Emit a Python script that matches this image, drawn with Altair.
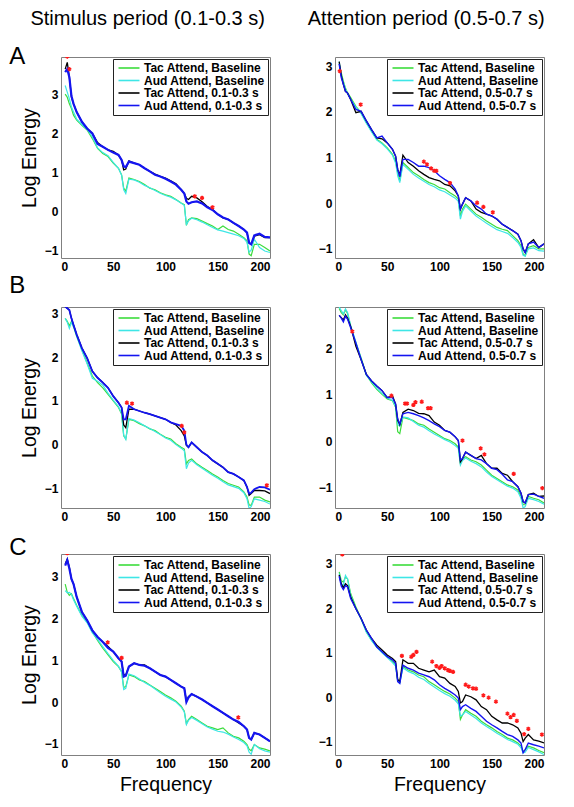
import altair as alt
import pandas as pd

FONT = "Liberation Sans"

FREQ = [4, 6, 8, 10, 12, 15, 20, 25, 30, 35, 40, 45, 50, 55, 58, 60, 62, 65, 70, 75,
        80, 85, 90, 95, 100, 105, 110, 115, 118, 120, 122, 125, 130, 135, 140, 145, 150, 155, 160, 165,
        170, 175, 178, 180, 182, 185, 190, 195, 200]

NAMES_STIM = ["Tac Attend, Baseline", "Aud Attend, Baseline", "Tac Attend, 0.1-0.3 s", "Aud Attend, 0.1-0.3 s"]
NAMES_ATTN = ["Tac Attend, Baseline", "Aud Attend, Baseline", "Tac Attend, 0.5-0.7 s", "Aud Attend, 0.5-0.7 s"]
COLORS = ["#3cdc3c", "#3ee6e6", "#000000", "#1414f0"]

# ---------------- Panel A, stimulus period ----------------
A_L_TAC_BASE = [3.00, 2.92, 2.75, 2.63, 2.46, 2.33, 2.20, 2.08, 1.86, 1.61, 1.48, 1.40, 1.23, 1.10, 0.93, 0.59, 0.51, 0.85, 0.81, 0.76,
                0.68, 0.59, 0.55, 0.47, 0.42, 0.38, 0.30, 0.21, 0.17, -0.36, -0.22, -0.17, -0.19, -0.25, -0.32, -0.38, -0.47, -0.38, -0.47, -0.51,
                -0.59, -0.68, -0.76, -1.10, -1.14, -0.85, -0.85, -0.93, -1.02]
A_L_AUD_BASE = [3.22, 3.05, 2.88, 2.67, 2.54, 2.36, 2.22, 2.10, 1.90, 1.62, 1.50, 1.42, 1.25, 1.10, 0.92, 0.55, 0.45, 0.82, 0.80, 0.74,
                0.66, 0.60, 0.53, 0.46, 0.40, 0.36, 0.29, 0.20, 0.15, -0.34, -0.25, -0.18, -0.22, -0.28, -0.35, -0.42, -0.48, -0.51, -0.55, -0.59,
                -0.63, -0.70, -0.80, -1.05, -1.00, -0.72, -0.93, -1.02, -1.06]
A_L_TAC = [3.64, 3.81, 3.43, 2.92, 2.75, 2.54, 2.29, 2.12, 1.99, 1.76, 1.65, 1.57, 1.53, 1.44, 1.31, 1.06, 1.08, 1.29, 1.23, 1.19,
           1.10, 1.02, 0.95, 0.89, 0.85, 0.78, 0.70, 0.55, 0.45, 0.33, 0.30, 0.38, 0.34, 0.24, 0.12, 0.04, -0.08, -0.17, -0.21, -0.30,
           -0.38, -0.47, -0.55, -0.81, -0.85, -0.64, -0.60, -0.68, -0.68]
A_L_AUD = [3.56, 3.64, 3.43, 2.95, 2.75, 2.54, 2.29, 2.12, 1.99, 1.72, 1.65, 1.57, 1.50, 1.44, 1.31, 1.15, 1.13, 1.27, 1.23, 1.19,
           1.10, 1.02, 0.93, 0.89, 0.83, 0.76, 0.68, 0.55, 0.45, 0.25, 0.19, 0.23, 0.25, 0.20, 0.10, 0.03, -0.08, -0.16, -0.21, -0.30,
           -0.38, -0.47, -0.55, -0.81, -0.85, -0.62, -0.58, -0.66, -0.67]
A_L_STAR_F = [6, 8, 128, 135, 145]
A_L_STAR_V = [3.96, 3.64, 0.38, 0.34, 0.10]

# ---------------- Panel A, attention period ----------------
A_R_TAC_BASE = [3.05, 2.85, 2.67, 2.52, 2.42, 2.31, 2.12, 1.98, 1.76, 1.58, 1.40, 1.32, 1.21, 1.07, 0.92, 0.67, 0.49, 0.89, 0.78, 0.67,
                0.60, 0.52, 0.45, 0.41, 0.34, 0.31, 0.23, 0.16, 0.09, -0.28, -0.13, -0.02, -0.13, -0.24, -0.31, -0.39, -0.46, -0.53, -0.57, -0.60,
                -0.71, -0.82, -0.93, -1.11, -1.15, -0.97, -0.93, -1.00, -1.00]
A_R_AUD_BASE = [3.10, 2.80, 2.65, 2.50, 2.40, 2.28, 2.10, 1.96, 1.75, 1.56, 1.38, 1.30, 1.19, 1.05, 0.88, 0.60, 0.45, 0.85, 0.74, 0.63,
                0.55, 0.48, 0.41, 0.36, 0.29, 0.25, 0.18, 0.11, 0.04, -0.35, -0.18, -0.06, -0.17, -0.28, -0.36, -0.44, -0.51, -0.58, -0.62, -0.66,
                -0.75, -0.86, -0.97, -1.14, -1.16, -1.00, -0.98, -1.04, -1.05]
A_R_TAC = [3.10, 2.80, 2.60, 2.45, 2.41, 2.27, 1.98, 2.01, 1.80, 1.61, 1.43, 1.41, 1.32, 1.18, 1.03, 0.74, 0.62, 1.05, 0.89, 0.81,
           0.71, 0.63, 0.56, 0.52, 0.49, 0.41, 0.38, 0.27, 0.16, -0.13, -0.02, 0.12, 0.05, -0.13, -0.20, -0.24, -0.28, -0.35, -0.46, -0.53,
           -0.60, -0.68, -0.82, -1.00, -1.08, -0.89, -0.80, -0.97, -0.89]
A_R_AUD = [3.05, 2.75, 2.60, 2.45, 2.41, 2.27, 2.05, 2.01, 1.80, 1.61, 1.43, 1.47, 1.32, 1.18, 1.03, 0.74, 0.58, 0.96, 0.96, 0.89,
           0.81, 0.81, 0.78, 0.71, 0.60, 0.52, 0.45, 0.31, 0.16, -0.13, -0.02, 0.12, 0.05, -0.06, -0.13, -0.24, -0.28, -0.35, -0.46, -0.53,
           -0.60, -0.68, -0.82, -1.00, -1.08, -0.89, -0.85, -0.97, -0.89]
A_R_STAR_F = [4.5, 24.6, 85, 88, 92, 95, 97, 110, 136, 142, 151]
A_R_STAR_V = [2.89, 2.16, 0.91, 0.85, 0.76, 0.71, 0.71, 0.44, 0.01, -0.08, -0.20]

# ---------------- Panel B, stimulus period ----------------
B_L_TAC_BASE = [2.89, 2.82, 2.72, 2.82, 2.70, 2.48, 2.17, 1.87, 1.57, 1.42, 1.30, 1.15, 1.00, 0.85, 0.70, 0.20, 0.13, 0.58, 0.55, 0.48,
                0.43, 0.36, 0.32, 0.24, 0.17, 0.13, 0.02, -0.06, -0.10, -0.44, -0.36, -0.33, -0.44, -0.52, -0.59, -0.67, -0.74, -0.82, -0.89, -0.93,
                -0.97, -1.08, -1.20, -1.38, -1.39, -1.20, -1.20, -1.27, -1.31]
B_L_AUD_BASE = [2.89, 2.80, 2.66, 2.80, 2.70, 2.48, 2.15, 1.85, 1.52, 1.45, 1.36, 1.18, 1.02, 0.87, 0.72, 0.22, 0.12, 0.60, 0.56, 0.50,
                0.43, 0.37, 0.30, 0.23, 0.15, 0.10, 0.00, -0.08, -0.14, -0.55, -0.42, -0.36, -0.46, -0.54, -0.62, -0.70, -0.77, -0.85, -0.92, -0.96,
                -1.00, -1.10, -1.24, -1.46, -1.42, -1.24, -1.27, -1.30, -1.36]
B_L_TAC = [3.16, 3.12, 3.08, 2.89, 2.74, 2.52, 2.21, 1.98, 1.68, 1.53, 1.42, 1.30, 1.11, 0.96, 0.85, 0.45, 0.39, 0.81, 0.81, 0.77,
           0.73, 0.70, 0.66, 0.62, 0.58, 0.51, 0.45, 0.32, 0.20, -0.02, -0.06, 0.05, -0.06, -0.17, -0.25, -0.36, -0.44, -0.52, -0.63, -0.67,
           -0.74, -0.82, -0.97, -1.16, -1.12, -1.05, -1.05, -1.06, -1.12]
B_L_AUD = [3.16, 3.12, 3.08, 2.89, 2.74, 2.52, 2.21, 1.98, 1.68, 1.53, 1.42, 1.30, 1.11, 0.96, 0.85, 0.58, 0.58, 0.89, 0.81, 0.77,
           0.73, 0.70, 0.66, 0.62, 0.58, 0.51, 0.47, 0.43, 0.32, 0.00, -0.06, 0.05, -0.06, -0.17, -0.25, -0.36, -0.44, -0.52, -0.63, -0.67,
           -0.74, -0.82, -0.97, -1.12, -1.10, -1.02, -0.97, -0.98, -1.03]
B_L_STAR_F = [63, 68, 115.5, 118, 197]
B_L_STAR_V = [0.96, 0.94, 0.43, 0.28, -0.93]

# ---------------- Panel B, attention period ----------------
B_R_TAC_BASE = [2.87, 2.78, 2.73, 2.84, 2.76, 2.48, 2.12, 1.80, 1.44, 1.26, 1.12, 1.01, 0.91, 0.87, 0.73, 0.20, 0.16, 0.51, 0.48, 0.44,
                0.37, 0.34, 0.26, 0.19, 0.12, 0.05, 0.01, -0.06, -0.13, -0.49, -0.38, -0.34, -0.41, -0.45, -0.52, -0.63, -0.74, -0.81, -0.88, -0.95,
                -0.99, -1.06, -1.20, -1.38, -1.38, -1.20, -1.24, -1.27, -1.34]
B_R_AUD_BASE = [2.90, 2.82, 2.75, 2.86, 2.78, 2.50, 2.14, 1.78, 1.42, 1.28, 1.14, 1.03, 0.93, 0.88, 0.74, 0.36, 0.32, 0.52, 0.50, 0.42,
                0.34, 0.30, 0.22, 0.15, 0.09, 0.03, -0.02, -0.10, -0.16, -0.52, -0.42, -0.37, -0.44, -0.49, -0.56, -0.67, -0.77, -0.84, -0.91, -0.98,
                -1.02, -1.10, -1.24, -1.45, -1.42, -1.24, -1.27, -1.31, -1.37]
B_R_TAC = [2.72, 2.67, 2.62, 2.73, 2.66, 2.48, 2.05, 1.76, 1.44, 1.30, 1.19, 1.09, 0.94, 0.98, 0.80, 0.45, 0.35, 0.62, 0.69, 0.66,
           0.60, 0.59, 0.55, 0.41, 0.34, 0.23, 0.19, 0.09, 0.01, -0.45, -0.38, -0.24, -0.31, -0.38, -0.31, -0.49, -0.59, -0.59, -0.70, -0.74,
           -0.88, -0.99, -1.13, -1.31, -1.34, -1.16, -1.13, -1.20, -1.19]
B_R_AUD = [2.72, 2.66, 2.58, 2.70, 2.64, 2.45, 2.12, 1.76, 1.44, 1.30, 1.19, 1.09, 0.94, 0.94, 0.80, 0.48, 0.37, 0.59, 0.62, 0.59,
           0.55, 0.50, 0.44, 0.37, 0.31, 0.23, 0.19, 0.09, 0.01, -0.41, -0.38, -0.24, -0.31, -0.38, -0.41, -0.49, -0.59, -0.62, -0.72, -0.84,
           -0.88, -0.99, -1.13, -1.31, -1.34, -1.16, -1.15, -1.20, -1.24]
B_R_STAR_F = [16.6, 54, 67, 69, 75, 77, 83, 89, 91.5, 122, 139.4, 143, 171, 198.4]
B_R_STAR_V = [2.37, 0.98, 0.81, 0.81, 0.78, 0.84, 0.85, 0.71, 0.71, 0.01, -0.16, -0.29, -0.71, -1.02]

# ---------------- Panel C, stimulus period ----------------
C_L_TAC_BASE = [2.83, 2.63, 2.56, 2.60, 2.48, 2.32, 2.08, 1.92, 1.68, 1.48, 1.29, 1.13, 0.97, 0.85, 0.73, 0.35, 0.37, 0.65, 0.61, 0.53,
                0.49, 0.41, 0.33, 0.25, 0.17, 0.10, 0.02, -0.10, -0.22, -0.52, -0.42, -0.34, -0.42, -0.50, -0.58, -0.62, -0.66, -0.62, -0.74, -0.82,
                -0.86, -0.94, -1.02, -1.13, -1.17, -1.02, -1.10, -1.13, -1.17]
C_L_AUD_BASE = [2.67, 2.62, 2.63, 2.58, 2.45, 2.30, 2.06, 1.90, 1.66, 1.50, 1.33, 1.16, 1.00, 0.86, 0.72, 0.30, 0.33, 0.67, 0.63, 0.55,
                0.47, 0.40, 0.31, 0.22, 0.14, 0.07, 0.00, -0.12, -0.24, -0.54, -0.44, -0.37, -0.44, -0.52, -0.60, -0.65, -0.70, -0.72, -0.77, -0.84,
                -0.90, -0.97, -1.05, -1.20, -1.25, -1.02, -1.12, -1.17, -1.20]
C_L_TAC = [3.31, 3.43, 3.23, 2.95, 2.83, 2.52, 2.16, 1.96, 1.72, 1.56, 1.44, 1.33, 1.21, 1.05, 0.97, 0.65, 0.65, 0.85, 0.93, 0.89,
           0.89, 0.81, 0.73, 0.65, 0.61, 0.53, 0.45, 0.37, 0.33, 0.02, 0.13, 0.19, 0.13, 0.06, -0.02, -0.10, -0.18, -0.26, -0.34, -0.42,
           -0.50, -0.58, -0.66, -0.86, -0.90, -0.74, -0.78, -0.86, -0.94]
C_L_AUD = [3.27, 3.40, 3.20, 2.95, 2.83, 2.52, 2.16, 1.96, 1.72, 1.56, 1.44, 1.30, 1.21, 1.05, 0.97, 0.61, 0.63, 0.85, 0.93, 0.89,
           0.87, 0.81, 0.73, 0.65, 0.61, 0.53, 0.45, 0.37, 0.33, 0.00, 0.11, 0.19, 0.13, 0.06, -0.02, -0.10, -0.18, -0.26, -0.34, -0.42,
           -0.48, -0.58, -0.66, -0.86, -0.90, -0.74, -0.78, -0.86, -0.94]
C_L_STAR_F = [6, 44.7, 58, 169.7]
C_L_STAR_V = [3.57, 1.43, 1.06, -0.37]

# ---------------- Panel C, attention period ----------------
C_R_TAC_BASE = [2.82, 2.62, 2.59, 2.70, 2.66, 2.33, 2.03, 1.77, 1.47, 1.28, 1.13, 1.02, 0.91, 0.80, 0.72, 0.36, 0.35, 0.69, 0.61, 0.57,
                0.50, 0.46, 0.35, 0.28, 0.20, 0.13, 0.07, -0.02, -0.10, -0.50, -0.40, -0.28, -0.36, -0.43, -0.54, -0.62, -0.69, -0.77, -0.84, -0.92,
                -0.96, -1.03, -1.10, -1.22, -1.18, -1.10, -1.14, -1.20, -1.25]
C_R_AUD_BASE = [2.78, 2.56, 2.51, 2.74, 2.66, 2.29, 2.00, 1.75, 1.46, 1.27, 1.12, 1.00, 0.89, 0.78, 0.70, 0.38, 0.32, 0.66, 0.58, 0.53,
                0.45, 0.40, 0.31, 0.23, 0.15, 0.08, 0.02, -0.07, -0.15, -0.42, -0.40, -0.32, -0.40, -0.48, -0.58, -0.66, -0.73, -0.81, -0.88, -0.95,
                -1.00, -1.06, -1.14, -1.25, -1.24, -1.13, -1.18, -1.23, -1.29]
C_R_TAC = [2.75, 2.55, 2.46, 2.55, 2.51, 2.25, 1.99, 1.77, 1.51, 1.32, 1.17, 1.06, 0.95, 0.87, 0.80, 0.40, 0.35, 0.84, 0.76, 0.76,
           0.65, 0.61, 0.57, 0.61, 0.46, 0.43, 0.31, 0.24, 0.13, -0.13, -0.10, 0.05, 0.01, -0.06, -0.21, -0.28, -0.43, -0.51, -0.58, -0.58,
           -0.62, -0.69, -0.81, -1.00, -0.92, -0.84, -0.96, -0.99, -1.03]
C_R_AUD = [2.72, 2.50, 2.42, 2.51, 2.48, 2.22, 1.99, 1.77, 1.51, 1.32, 1.13, 1.02, 0.91, 0.84, 0.76, 0.35, 0.31, 0.72, 0.65, 0.61,
           0.54, 0.50, 0.46, 0.39, 0.28, 0.20, 0.13, 0.05, -0.02, -0.28, -0.21, -0.17, -0.25, -0.32, -0.43, -0.54, -0.62, -0.69, -0.77, -0.84,
           -0.88, -0.96, -1.03, -1.25, -1.18, -1.03, -1.07, -1.10, -1.14]
C_R_STAR_F = [7, 64, 73, 75, 78, 93, 97, 100, 102, 105, 108, 110, 113, 125, 128, 132, 135, 142, 147, 154, 165, 168, 171, 174, 181, 185, 198]
C_R_STAR_V = [3.21, 0.93, 0.91, 0.95, 1.02, 0.80, 0.70, 0.66, 0.70, 0.65, 0.61, 0.59, 0.57, 0.28, 0.24, 0.20, 0.19, 0.04, -0.01, -0.10,
              -0.37, -0.45, -0.40, -0.53, -0.83, -0.71, -0.84]

ASTERISK = "M0,-1L0,1M-0.87,-0.5L0.87,0.5M-0.87,0.5L0.87,-0.5"
LEGEND_LINE = "M-2.1,0L2.1,0"


def panel(series, names, star_f, star_v, ydomain, yticks, letter, letter_offset,
          letter_visible, ytitle, xtitle, blue_width):
    for s in series:
        assert len(s) == len(FREQ)
    widths = [1.2, 1.2, 1.3, blue_width]
    color = alt.Color(
        "s:N",
        scale=alt.Scale(domain=names, range=COLORS),
        legend=alt.Legend(
            title=None, orient="top-right", offset=2, padding=3,
            strokeColor="#222222", fillColor="white", cornerRadius=0,
            symbolType=LEGEND_LINE, symbolSize=100, symbolStrokeWidth=1.6,
            symbolOffset=7, labelOffset=9, rowPadding=0.5,
            labelFont=FONT, labelFontWeight="bold", labelFontSize=12,
            labelColor="black", labelLimit=300,
        ),
    )
    x = alt.X("f:Q", scale=alt.Scale(domain=[0, 200], nice=False, zero=False),
              axis=alt.Axis(values=[0, 50, 100, 150, 200], title=xtitle, titlePadding=6))
    y = alt.Y("v:Q", scale=alt.Scale(domain=ydomain, nice=False, zero=False),
              axis=alt.Axis(values=yticks, title=ytitle, titlePadding=5))
    layers = []
    for name, vals, w in zip(names, series, widths):
        df = pd.DataFrame({"f": FREQ, "v": vals, "s": name})
        layers.append(alt.Chart(df).mark_line(clip=True, strokeWidth=w).encode(x=x, y=y, color=color))
    sdf = pd.DataFrame({"f": star_f, "v": star_v})
    layers.append(
        alt.Chart(sdf).mark_point(shape=ASTERISK, size=18, filled=False, color="#ff1a1a",
                                  strokeWidth=1.5, opacity=1, clip=True).encode(x=x, y=y)
    )
    return alt.layer(*layers).properties(
        width=209, height=201,
        title=alt.TitleParams(letter, anchor="start", frame="bounds", fontSize=24, font=FONT,
                              fontWeight="normal", offset=letter_offset, dx=-10,
                              color="black" if letter_visible else "transparent"),
    )


OFFS = [-12, 9, -6]


def column(a, b, c, title, dx):
    top = alt.vconcat(a, b, spacing=0).resolve_scale(color="independent")
    return alt.vconcat(top, c, spacing=12).properties(
        title=alt.TitleParams(title, anchor="middle", fontSize=20, font=FONT,
                              fontWeight="normal", offset=16, dx=dx)
    ).resolve_scale(color="independent")


left = column(
    panel([A_L_TAC_BASE, A_L_AUD_BASE, A_L_TAC, A_L_AUD], NAMES_STIM, A_L_STAR_F, A_L_STAR_V,
          [-1.2, 3.95], [-1, 0, 1, 2, 3], "A", OFFS[0], True, "Log Energy", None, 2.2),
    panel([B_L_TAC_BASE, B_L_AUD_BASE, B_L_TAC, B_L_AUD], NAMES_STIM, B_L_STAR_F, B_L_STAR_V,
          [-1.45, 3.15], [-1, 0, 1, 2, 3], "B", OFFS[1], True, "Log Energy", None, 1.8),
    panel([C_L_TAC_BASE, C_L_AUD_BASE, C_L_TAC, C_L_AUD], NAMES_STIM, C_L_STAR_F, C_L_STAR_V,
          [-1.27, 3.55], [-1, 0, 1, 2, 3], "C", OFFS[2], True, "Log Energy", "Frequency", 2.2),
    "Stimulus period (0.1-0.3 s)", 8,
)

right = column(
    panel([A_R_TAC_BASE, A_R_AUD_BASE, A_R_TAC, A_R_AUD], NAMES_ATTN, A_R_STAR_F, A_R_STAR_V,
          [-1.2, 3.2], [-1, 0, 1, 2, 3], "A", OFFS[0], False, None, None, 1.4),
    panel([B_R_TAC_BASE, B_R_AUD_BASE, B_R_TAC, B_R_AUD], NAMES_ATTN, B_R_STAR_F, B_R_STAR_V,
          [-1.45, 2.9], [-1, 0, 1, 2], "B", OFFS[1], False, None, None, 1.4),
    panel([C_R_TAC_BASE, C_R_AUD_BASE, C_R_TAC, C_R_AUD], NAMES_ATTN, C_R_STAR_F, C_R_STAR_V,
          [-1.3, 3.22], [-1, 0, 1, 2, 3], "C", OFFS[2], False, None, "Frequency", 1.4),
    "Attention period (0.5-0.7 s)", 0,
)

chart = alt.hconcat(left, right, spacing=36).resolve_scale(color="independent").properties(
    padding={"left": 0, "top": 0, "right": 0, "bottom": 0}
).configure_view(
    stroke="#808080", strokeWidth=1
).configure_axis(
    labelFont=FONT, labelFontWeight="bold", labelFontSize=12, labelColor="black", labelPadding=3,
    titleFont=FONT, titleFontWeight="normal", titleFontSize=19.5, titleColor="black",
    ticks=False, domain=False, grid=False,
).configure_title(color="black")

chart.save("out.html", embed_options={"renderer": "svg", "actions": False})
